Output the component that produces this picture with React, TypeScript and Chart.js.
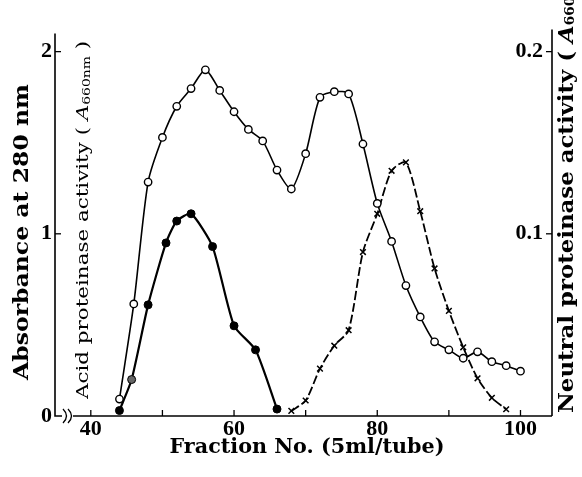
import React, { useEffect, useRef } from "react";
import { Chart, registerables } from "chart.js";

Chart.register(...registerables);

// ---- data ----
const absFractions = [44, 46, 48, 50, 52, 54, 56, 58, 60, 62, 64, 66, 68, 70, 72, 74, 76, 78, 80, 82, 84, 86, 88, 90, 92, 94, 96, 98, 100];
const absorbance280 = [0.093, 0.615, 1.284, 1.529, 1.70, 1.797, 1.90, 1.787, 1.67, 1.573, 1.51, 1.35, 1.246, 1.44, 1.749, 1.78, 1.768, 1.493, 1.167, 0.958, 0.716, 0.544, 0.407, 0.363, 0.317, 0.352, 0.298, 0.276, 0.246];

const acidFractions = [44, 45.7, 48, 50.5, 52, 54, 57, 60, 63, 66];
const acidActivity = [0.03, 0.2, 0.61, 0.95, 1.07, 1.11, 0.93, 0.495, 0.363, 0.038];

const neutralFractions = [68, 70, 72, 74, 76, 78, 80, 82, 84, 86, 88, 90, 92, 94, 96, 98];
const neutralActivity = [0.0028, 0.0085, 0.026, 0.0386, 0.0471, 0.09, 0.111, 0.1346, 0.1392, 0.1124, 0.081, 0.0577, 0.0377, 0.0207, 0.01, 0.0037];

const xTickValues = [40, 50, 60, 70, 80, 90, 100];
const xTickLabels = ["40", "", "60", "", "80", "", "100"];
const leftTickValues = [0, 1, 2];
const leftTickLabels = ["0", "1", "2"];
const rightTickValues = [0.1, 0.2];
const rightTickLabels = ["0.1", "0.2"];

const xTitle = "Fraction No. (5ml/tube)";
const leftTitle = "Absorbance at 280 nm";
const acidTitle = "Acid proteinase activity";
const neutralTitle = "Neutral proteinase activity";

const SERIF = '"DejaVu Serif", "Liberation Serif", serif';
const TICKFONT = '"Liberation Serif", serif';

type Seg = { t: string; font: string; dy?: number };

function drawSegs(
  ctx: CanvasRenderingContext2D,
  segs: Seg[],
  x: number,
  y: number,
  angle: number,
  align: "center" | "left",
  targetW?: number,
  fitFirstOnly?: boolean
) {
  ctx.save();
  let total = 0;
  const widths = segs.map((s) => {
    ctx.font = s.font;
    const w = ctx.measureText(s.t).width;
    total += w;
    return w;
  });
  const base = fitFirstOnly ? widths[0] : total;
  const sx = targetW ? targetW / base : 1;
  ctx.translate(x, y);
  ctx.rotate(angle);
  ctx.scale(sx, 1);
  ctx.fillStyle = "#000";
  ctx.textBaseline = "middle";
  ctx.textAlign = "left";
  let cx = align === "center" ? -total / 2 : 0;
  segs.forEach((s, i) => {
    ctx.font = s.font;
    ctx.fillText(s.t, cx, s.dy || 0);
    cx += widths[i];
  });
  ctx.restore();
}

const decorPlugin = {
  id: "decor",
  afterDraw(chart: any) {
    const { ctx, chartArea } = chart;
    const { left, right, top, bottom } = chartArea;
    const xs = chart.scales.x;
    const ys = chart.scales.y;
    const y2 = chart.scales.y2;
    ctx.save();
    ctx.strokeStyle = "#000";
    ctx.lineWidth = 1.6;
    ctx.lineCap = "butt";
    // left axis + short foot
    ctx.beginPath();
    ctx.moveTo(left, top);
    ctx.lineTo(left, bottom);
    ctx.lineTo(left + 7, bottom);
    ctx.stroke();
    // axis break "))"
    ctx.lineWidth = 1.3;
    [left + 8, left + 13].forEach((bx) => {
      ctx.beginPath();
      ctx.moveTo(bx, bottom - 7);
      ctx.quadraticCurveTo(bx + 7, bottom, bx, bottom + 7);
      ctx.stroke();
    });
    // x axis line
    ctx.lineWidth = 1.6;
    ctx.beginPath();
    ctx.moveTo(left + 18, bottom);
    ctx.lineTo(right, bottom);
    ctx.stroke();
    // right axis
    ctx.beginPath();
    ctx.moveTo(right, top - 4);
    ctx.lineTo(right, bottom);
    ctx.stroke();
    // ticks
    ctx.lineWidth = 1.3;
    xTickValues.forEach((v) => {
      const px = xs.getPixelForValue(v);
      ctx.beginPath();
      ctx.moveTo(px, bottom);
      ctx.lineTo(px, bottom - 6);
      ctx.stroke();
    });
    leftTickValues.filter((v) => v > 0).forEach((v) => {
      const py = ys.getPixelForValue(v);
      ctx.beginPath();
      ctx.moveTo(left, py);
      ctx.lineTo(left + 6, py);
      ctx.stroke();
    });
    rightTickValues.forEach((v) => {
      const py = y2.getPixelForValue(v);
      ctx.beginPath();
      ctx.moveTo(right, py);
      ctx.lineTo(right - 6, py);
      ctx.stroke();
    });
    ctx.restore();

    // titles
    drawSegs(ctx, [{ t: xTitle, font: `bold 21px ${SERIF}` }], 307, 448, 0, "center", 275);
    drawSegs(ctx, [{ t: leftTitle, font: `bold 21px ${SERIF}` }], 23, 232, -Math.PI / 2, "center", 296);
    drawSegs(
      ctx,
      [
        { t: acidTitle + " ( ", font: `17px ${SERIF}` },
        { t: "A", font: `italic 17px ${SERIF}` },
        { t: "660nm", font: `11px ${SERIF}`, dy: 3 },
        { t: " )", font: `17px ${SERIF}` },
      ],
      84,
      220,
      -Math.PI / 2,
      "center",
      358
    );
    drawSegs(
      ctx,
      [
        { t: neutralTitle + " ( ", font: `bold 20px ${SERIF}` },
        { t: "A", font: `italic bold 20px ${SERIF}` },
        { t: "660nm", font: `bold 12px ${SERIF}`, dy: 3 },
        { t: " )", font: `bold 20px ${SERIF}` },
      ],
      568,
      413,
      -Math.PI / 2,
      "left",
      370,
      true
    );
  },
};

export default function App() {
  const ref = useRef<HTMLCanvasElement | null>(null);
  useEffect(() => {
    if (!ref.current) return;
    const chart = new Chart(ref.current, {
      type: "scatter",
      data: {
        datasets: [
          {
            label: "Absorbance at 280 nm",
            data: absFractions.map((f, i) => ({ x: f, y: absorbance280[i] })),
            yAxisID: "y",
            showLine: true,
            borderColor: "#000",
            borderWidth: 1.6,
            tension: 0.25,
            pointStyle: "circle",
            pointRadius: 3.7,
            pointBorderWidth: 1.4,
            pointBackgroundColor: "#fff",
            pointBorderColor: "#000",
            order: 1,
          },
          {
            label: "Acid proteinase activity",
            data: acidFractions.map((f, i) => ({ x: f, y: acidActivity[i] })),
            yAxisID: "y",
            showLine: true,
            borderColor: "#000",
            borderWidth: 2.2,
            tension: 0.2,
            pointStyle: "circle",
            pointRadius: 4,
            pointBorderWidth: 1,
            pointBackgroundColor: acidFractions.map((f) => (f === 45.7 ? "#666" : "#000")),
            pointBorderColor: "#000",
            order: 2,
          },
          {
            label: "Neutral proteinase activity",
            data: neutralFractions.map((f, i) => ({ x: f, y: neutralActivity[i] })),
            yAxisID: "y2",
            showLine: true,
            borderColor: "#000",
            borderWidth: 1.8,
            borderDash: [9, 3],
            tension: 0.25,
            pointStyle: "crossRot",
            pointRadius: 4,
            pointBorderWidth: 1.5,
            pointBorderColor: "#000",
            order: 3,
          },
        ],
      },
      options: {
        animation: false,
        responsive: false,
        devicePixelRatio: 1,
        layout: { padding: { top: 33.4, left: 0, right: 0, bottom: 0 } },
        plugins: { legend: { display: false }, tooltip: { enabled: false } },
        scales: {
          x: {
            type: "linear",
            min: 35,
            max: 104.4,
            grid: { display: false, drawTicks: false },
            border: { display: false },
            afterBuildTicks: (s: any) => {
              s.ticks = xTickValues.map((v) => ({ value: v }));
            },
            afterFit: (s: any) => {
              s.height = 61;
            },
            ticks: {
              autoSkip: false,
              maxRotation: 0,
              padding: 0,
              color: "#000",
              font: { family: TICKFONT, size: 22, weight: "bold" },
              callback: (v: any) => {
                const i = xTickValues.indexOf(Number(v));
                return i >= 0 ? xTickLabels[i] : "";
              },
            },
          },
          y: {
            type: "linear",
            position: "left",
            min: 0,
            max: 2.1,
            grid: { display: false, drawTicks: false },
            border: { display: false },
            afterBuildTicks: (s: any) => {
              s.ticks = leftTickValues.map((v) => ({ value: v }));
            },
            afterFit: (s: any) => {
              s.width = 55;
            },
            ticks: {
              padding: 3,
              color: "#000",
              font: { family: TICKFONT, size: 22, weight: "bold" },
              callback: (v: any) => {
                const i = leftTickValues.indexOf(Number(v));
                return i >= 0 ? leftTickLabels[i] : "";
              },
            },
          },
          y2: {
            type: "linear",
            position: "right",
            min: 0,
            max: 0.21,
            grid: { display: false, drawTicks: false },
            border: { display: false },
            afterBuildTicks: (s: any) => {
              s.ticks = rightTickValues.map((v) => ({ value: v }));
            },
            afterFit: (s: any) => {
              s.width = 30;
            },
            ticks: {
              mirror: true,
              padding: -9,
              color: "#000",
              font: { family: TICKFONT, size: 22, weight: "bold" },
              callback: (v: any) => {
                const i = rightTickValues.findIndex((t) => Math.abs(t - Number(v)) < 1e-9);
                return i >= 0 ? rightTickLabels[i] : "";
              },
            },
          },
        },
      },
      plugins: [decorPlugin],
    });
    return () => chart.destroy();
  }, []);
  return (
    <div style={{ position: "absolute", left: 0, top: 0, width: 582, height: 477, background: "#fff" }}>
      <canvas ref={ref} width={582} height={477} style={{ display: "block", width: 582, height: 477 }} />
    </div>
  );
}
